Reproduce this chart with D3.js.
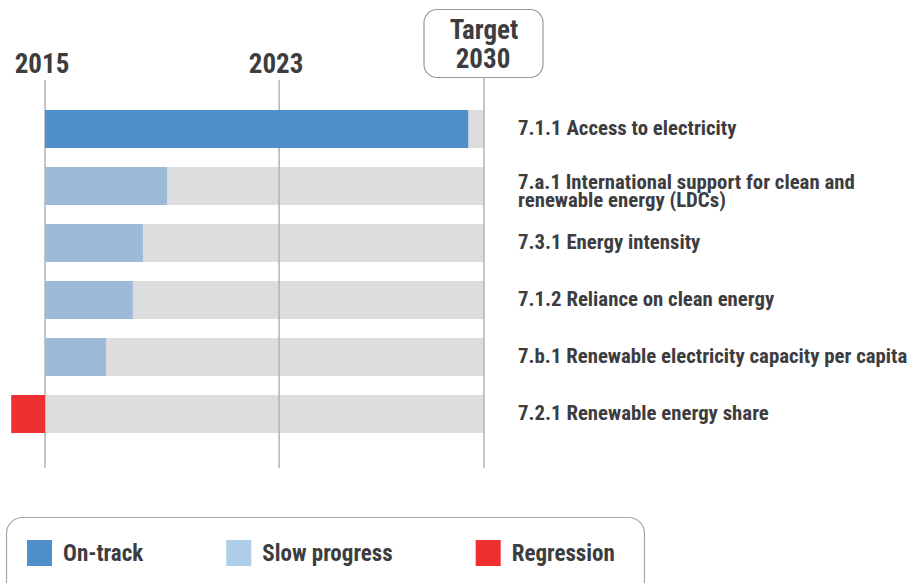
<!DOCTYPE html>
<html>
<head>
<meta charset="utf-8">
<script src="https://cdn.jsdelivr.net/npm/d3@7"></script>
<style>
  body { margin: 0; background: #fff; }
  svg { display: block; font-family: "Roboto Condensed", "Roboto", sans-serif; font-weight: 700; }
</style>
</head>
<body>
<svg id="chart" width="918" height="583"></svg>
<script>
const indicators = [
    "7.1.1 Access to electricity",
    "7.a.1 International support for clean and\nrenewable energy (LDCs)",
    "7.3.1 Energy intensity",
    "7.1.2 Reliance on clean energy",
    "7.b.1 Renewable electricity capacity per capita",
    "7.2.1 Renewable energy share"
];
// share of the way from 2015 baseline to the 2030 target
const progress = [0.964, 0.278, 0.223, 0.200, 0.139, -0.077];
const status = ["On-track", "Slow progress", "Slow progress", "Slow progress", "Slow progress", "Regression"];
const yearTicks = [2015, 2023];
const targetYear = 2030;
const legendItems = ["On-track", "Slow progress", "Regression"];

const barColor = { "On-track": "#4f8fcc", "Slow progress": "#9dbbd9", "Regression": "#ee3030" };
const swatchColor = { "On-track": "#4f8fcc", "Slow progress": "#aecde9", "Regression": "#ee3030" };
const textColor = "#3d3d3f";

const svg = d3.select("#chart");

const xYear = d3.scaleLinear().domain([2015, targetYear]).range([45, 484]);
const xProg = d3.scaleLinear().domain([0, 1]).range([45, 484]);
const y = d3.scaleBand().domain(indicators).range([100.5, 442.5]).paddingInner(1 / 3).paddingOuter(1 / 6);

// background tracks
svg.append("g")
    .selectAll("rect")
    .data(indicators)
    .join("rect")
    .attr("x", xProg(0))
    .attr("width", xProg(1) - xProg(0))
    .attr("y", d => y(d))
    .attr("height", y.bandwidth())
    .attr("fill", "#dcdddf");

// year guide lines
svg.append("g")
    .attr("stroke", "#b3b3b3")
    .attr("stroke-width", 1.5)
    .selectAll("line")
    .data(yearTicks.concat([targetYear]))
    .join("line")
    .attr("x1", d => xYear(d))
    .attr("x2", d => xYear(d))
    .attr("y1", d => d === targetYear ? 78 : 80)
    .attr("y2", 468);

// progress bars
svg.append("g")
    .selectAll("rect")
    .data(indicators)
    .join("rect")
    .attr("x", (d, i) => Math.min(xProg(0), xProg(progress[i])))
    .attr("width", (d, i) => Math.abs(xProg(progress[i]) - xProg(0)))
    .attr("y", d => y(d))
    .attr("height", y.bandwidth())
    .attr("fill", (d, i) => barColor[status[i]]);

// year labels
svg.append("g")
    .attr("text-anchor", "middle")
    .attr("font-size", 27)
    .attr("fill", textColor)
    .selectAll("text")
    .data(yearTicks)
    .join("text")
    .attr("x", d => xYear(d) - 3)
    .attr("y", 73)
    .text(d => d);

// target box
const tx = xYear(targetYear);
svg.append("rect")
    .attr("x", tx - 60).attr("y", 9.5)
    .attr("width", 119).attr("height", 68)
    .attr("rx", 13)
    .attr("fill", "#fff")
    .attr("stroke", "#9a9a9a")
    .attr("stroke-width", 1.2);
const targetText = svg.append("text")
    .attr("text-anchor", "middle").attr("font-size", 27).attr("fill", textColor);
targetText.append("tspan").attr("x", tx).attr("y", 39).text("Target");
targetText.append("tspan").attr("x", tx - 1).attr("y", 68).text(targetYear);

// indicator labels
svg.append("g")
    .attr("font-size", 20.8)
    .attr("fill", textColor)
    .selectAll("text")
    .data(indicators)
    .join("text")
    .attr("y", d => {
        const n = d.split("\n").length;
        return y(d) + y.bandwidth() / 2 + (n > 1 ? 2.5 : 6);
    })
    .each(function(d) {
        d3.select(this).selectAll("tspan")
            .data(d.split("\n"))
            .join("tspan")
            .attr("x", 518)
            .attr("dy", (l, j) => j === 0 ? 0 : 18.5)
            .text(l => l);
    });

// legend
svg.append("rect")
    .attr("x", 6.5).attr("y", 517.5)
    .attr("width", 638).attr("height", 90)
    .attr("rx", 16)
    .attr("fill", "none")
    .attr("stroke", "#a6a6a6")
    .attr("stroke-width", 1.2);

const legend = svg.append("g")
    .selectAll("g")
    .data(legendItems)
    .join("g");
legend.append("rect")
    .attr("width", 25).attr("height", 26)
    .attr("fill", d => swatchColor[d]);
legend.append("text")
    .attr("x", 36)
    .attr("y", 21)
    .attr("font-size", 23)
    .attr("fill", textColor)
    .text(d => d);
// flow the legend items left to right
let lx = 27;
legend.each(function() {
    const g = d3.select(this).attr("transform", `translate(${lx},540)`);
    lx += 36 + g.select("text").node().getComputedTextLength() + 83;
});
</script>
</body>
</html>
